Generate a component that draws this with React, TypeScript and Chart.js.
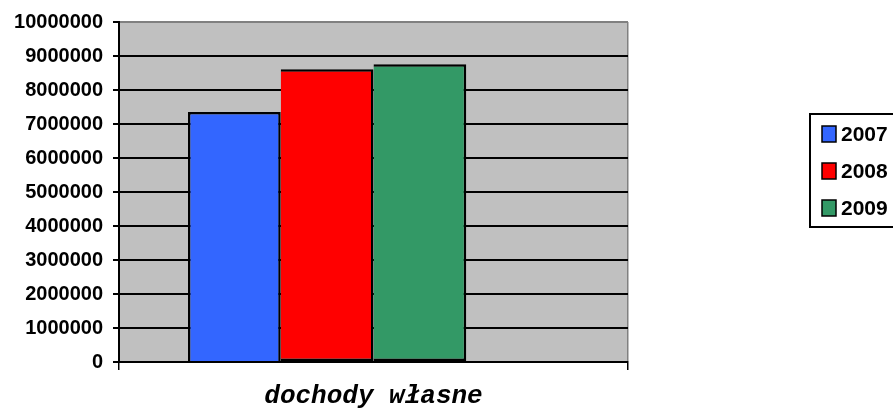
import React, { useEffect, useRef } from "react";
import { Chart, registerables } from "chart.js";

Chart.register(...registerables);

const categories = ["dochody własne"];
const seriesLabels = ["2007", "2008", "2009", ""];
const values2007 = [7350000];
const values2008 = [8610000];
const values2009 = [8760000];
const valuesEmpty = [null];
const seriesColors = ["#3366FF", "#FF0000", "#339966", "rgba(0,0,0,0)"];
const yMin = 0;
const yMax = 10000000;
const yStep = 1000000;

const plotBackground = {
  id: "plotBackground",
  beforeDraw(chart: any) {
    const { ctx, chartArea } = chart;
    ctx.save();
    ctx.fillStyle = "#C0C0C0";
    ctx.fillRect(chartArea.left, chartArea.top, chartArea.right - chartArea.left, chartArea.bottom - chartArea.top);
    ctx.restore();
  },
};

const boxLegend = {
  id: "boxLegend",
  afterDraw(chart: any) {
    const { ctx } = chart;
    const boxX = 810;
    const boxY = 114;
    const boxW = 110;
    const boxH = 113;
    ctx.save();
    ctx.fillStyle = "#FFFFFF";
    ctx.fillRect(boxX, boxY, boxW, boxH);
    ctx.strokeStyle = "#000000";
    ctx.lineWidth = 2;
    ctx.strokeRect(boxX, boxY, boxW, boxH);
    const rowCenters = [134, 171, 208];
    chart.data.datasets
      .filter((ds: any) => ds.label)
      .forEach((ds: any, i: number) => {
        const cy = rowCenters[i];
        ctx.fillStyle = ds.backgroundColor;
        ctx.fillRect(822, cy - 8, 14, 16);
        ctx.strokeStyle = "#000000";
        ctx.lineWidth = 1.5;
        ctx.strokeRect(822, cy - 8, 14, 16);
        ctx.fillStyle = "#000000";
        ctx.font = "bold 21px 'Liberation Sans', Arial, sans-serif";
        ctx.textAlign = "left";
        ctx.textBaseline = "middle";
        ctx.fillText(ds.label, 841, cy + 1);
      });
    ctx.restore();
  },
};

export default function App() {
  const canvasRef = useRef<HTMLCanvasElement | null>(null);

  useEffect(() => {
    if (!canvasRef.current) return;
    const seriesValues = [values2007, values2008, values2009, valuesEmpty];
    const chart = new Chart(canvasRef.current, {
      type: "bar",
      data: {
        labels: categories,
        datasets: seriesLabels.map((label, i) => ({
          label,
          data: seriesValues[i],
          backgroundColor: seriesColors[i],
          borderColor: "#000000",
          borderWidth: 2.5,
          borderSkipped: i === 0 ? "bottom" : "left",
          categoryPercentage: 0.729,
          barPercentage: 1.0,
        })),
      },
      options: {
        animation: false,
        responsive: false,
        maintainAspectRatio: false,
        layout: { padding: { top: 22, right: 265, bottom: 0, left: 0 } },
        plugins: {
          legend: { display: false },
          tooltip: { enabled: false },
          title: { display: false },
        },
        scales: {
          x: {
            offset: true,
            afterFit: (scale: any) => {
              scale.height = 50;
            },
            grid: {
              offset: true,
              drawOnChartArea: true,
              color: (ctx: any) => (ctx.type === "tick" ? "#000000" : "#808080"),
              tickColor: "#000000",
              tickLength: 8,
              lineWidth: 1.5,
            },
            border: { display: true, color: "#000000", width: 2 },
            ticks: {
              color: "#000000",
              padding: 11,
              font: { family: "'Liberation Mono', 'Courier New', monospace", size: 26, weight: "bold", style: "italic" },
            },
          },
          y: {
            min: yMin,
            max: yMax,
            afterFit: (scale: any) => {
              scale.width = 119;
            },
            grid: {
              color: (ctx: any) => (ctx.tick && ctx.tick.value === yMax ? "#808080" : "#000000"),
              tickColor: "#000000",
              tickLength: 6,
              lineWidth: 2,
            },
            border: { display: true, color: "#000000", width: 2 },
            ticks: {
              stepSize: yStep,
              color: "#000000",
              padding: 10,
              font: { family: "'Liberation Sans', Arial, sans-serif", size: 20, weight: "bold" },
              callback: (v: any) => String(v),
            },
          },
        },
      },
      plugins: [plotBackground, boxLegend],
    });
    return () => chart.destroy();
  }, []);

  return (
    <div style={{ position: "absolute", left: 0, top: 0, width: 893, height: 412, background: "#FFFFFF" }}>
      <canvas ref={canvasRef} width={893} height={412} style={{ width: 893, height: 412, display: "block" }} />
    </div>
  );
}
